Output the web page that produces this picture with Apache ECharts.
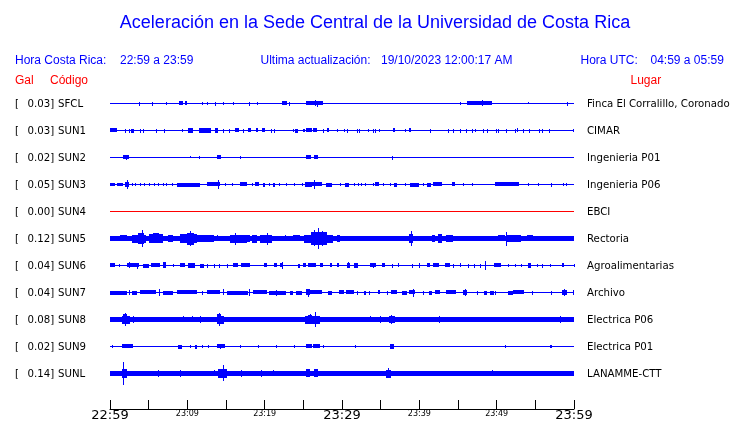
<!DOCTYPE html>
<html><head><meta charset="utf-8">
<script src="https://cdn.jsdelivr.net/npm/echarts@6/dist/echarts.min.js"></script>
<style>html,body{margin:0;padding:0;background:#fff}#c{width:740px;height:423px}</style>
</head><body><div id="c"></div>
<script>
// Time axis: minutes after 22:59 (hora Costa Rica)
const timeTicks = ['22:59','23:09','23:19','23:29','23:39','23:49','23:59'];
const codes = ['SFCL','SUN1','SUN2','SUN3','SUN4','SUN5','SUN6','SUN7','SUN8','SUN9','SUNL'];
const galPeak = ['0.03','0.03','0.02','0.05','0.00','0.12','0.04','0.04','0.08','0.02','0.14'];
const places = ['Finca El Corralillo, Coronado','CIMAR','Ingenieria P01','Ingenieria P06','EBCI','Rectoria','Agroalimentarias','Archivo','Electrica P06','Electrica P01','LANAMME-CTT'];
// background (continuous) amplitude of each trace, Gal
const baseAmp = [0,0,0,0,0,0.022,0,0,0.022,0,0.022];
// bursts: [start minute, end minute, half amplitude (Gal)]
const burstsSFCL = [[3.8,3.8,0.015],[5.4,5.4,0.015],[7.3,7.3,0.01],[8.9,9.4,0.02],[9.7,10.0,0.02],[11.9,11.9,0.012],[12.5,12.5,0.012],[13.6,13.6,0.015],[14.6,14.6,0.012],[15.9,15.9,0.01],[18.0,18.0,0.015],[19.0,19.0,0.01],[22.3,22.9,0.02],[23.1,23.1,0.015],[25.4,27.6,0.02],[26.5,26.5,0.03],[26.8,26.8,0.028],[45.3,45.3,0.01],[46.1,49.4,0.02],[48.1,48.1,0.03],[54.0,54.0,0.008],[59.1,59.1,0.015]];
const burstsSUN1 = [[0,0.9,0.02],[1.9,1.9,0.015],[2.4,2.4,0.015],[2.7,3.1,0.015],[3.9,3.9,0.015],[4.3,4.3,0.015],[6.0,6.0,0.015],[7.0,7.0,0.015],[9.3,9.3,0.01],[10.1,10.7,0.025],[11.5,13.0,0.022],[13.6,14.0,0.025],[14.6,14.6,0.015],[15.4,15.4,0.015],[16.2,16.7,0.018],[17.2,17.2,0.015],[17.8,18.2,0.018],[18.9,19.1,0.018],[19.6,20.0,0.018],[20.8,20.8,0.015],[21.2,21.2,0.015],[23.6,23.6,0.012],[23.9,24.3,0.015],[25.0,25.2,0.012],[25.4,26.1,0.018],[26.3,26.8,0.018],[27.5,27.5,0.015],[28.0,28.3,0.018],[29.3,29.3,0.012],[30.2,30.2,0.01],[30.7,30.7,0.015],[31.9,31.9,0.015],[32.2,32.2,0.015],[33.4,33.4,0.01],[34.0,34.0,0.015],[34.3,34.3,0.015],[34.8,34.8,0.01],[36.6,36.9,0.018],[38.1,38.1,0.012],[38.6,38.9,0.018],[41.4,41.4,0.015],[43.7,43.7,0.015],[44.3,44.3,0.015],[45.3,45.3,0.015],[46.0,46.0,0.015],[46.8,46.8,0.015],[47.2,47.2,0.01],[48.2,48.2,0.015],[48.8,48.8,0.015],[49.9,49.9,0.015],[50.2,50.2,0.015],[51.2,51.2,0.015],[52.4,52.4,0.015],[52.6,52.8,0.018],[53.4,53.4,0.015],[54.2,54.2,0.015],[55.5,55.5,0.015],[55.8,55.8,0.015],[56.8,56.8,0.015],[59.9,59.9,0.012]];
const burstsSUN2 = [[1.7,2.4,0.018],[2.1,2.1,0.022],[10.3,10.3,0.008],[11.5,11.5,0.012],[13.8,14.4,0.018],[16.8,16.8,0.01],[25.4,26.0,0.018],[26.4,26.9,0.018],[36.5,36.5,0.015]];
const burstsSUN3 = [[0,0.6,0.012],[0.9,1.7,0.012],[1.9,2.5,0.025],[2.2,2.2,0.05],[2.8,2.8,0.012],[3.2,3.2,0.012],[3.9,3.9,0.012],[4.4,4.4,0.012],[5.1,5.1,0.012],[5.7,5.7,0.012],[6.2,6.2,0.012],[6.9,6.9,0.012],[7.3,7.3,0.012],[8.0,8.0,0.012],[8.6,11.6,0.015],[12.5,14.2,0.02],[14.0,14.0,0.045],[14.9,14.9,0.012],[15.8,15.8,0.012],[16.8,17.7,0.018],[18.3,18.3,0.012],[18.7,19.3,0.018],[19.8,20.1,0.015],[20.6,20.6,0.012],[21.1,21.4,0.015],[21.8,21.8,0.012],[22.8,22.8,0.012],[23.8,23.8,0.01],[24.8,24.8,0.01],[25.2,27.4,0.02],[25.2,26.1,0.025],[26.4,26.4,0.05],[27.9,28.7,0.015],[29.7,29.7,0.012],[30.4,30.9,0.015],[31.5,31.5,0.012],[32.1,32.1,0.01],[32.5,32.5,0.012],[33.0,33.0,0.012],[34.0,34.0,0.01],[34.3,34.8,0.02],[35.3,35.3,0.012],[36.2,36.2,0.012],[36.7,37.1,0.015],[38.2,38.2,0.012],[38.8,40.0,0.015],[40.5,40.5,0.01],[41.0,41.5,0.015],[41.8,42.9,0.018],[44.2,44.6,0.018],[45.6,45.6,0.012],[46.8,46.8,0.01],[49.8,52.9,0.018],[54.1,54.1,0.012],[55.3,55.3,0.01],[57.0,57.0,0.015],[58.6,58.6,0.012],[59.0,59.0,0.012]];
const burstsSUN4 = [];
const burstsSUN5 = [[1.3,2.2,0.03],[2.8,4.7,0.04],[3.6,4.4,0.06],[4.1,4.1,0.095],[5.0,6.9,0.045],[5.5,6.3,0.055],[7.5,8.2,0.035],[9.1,11.2,0.045],[9.9,10.8,0.065],[10.3,10.3,0.085],[11.2,13.4,0.035],[13.8,13.8,0.03],[15.5,16.8,0.04],[16.2,16.2,0.065],[16.8,17.7,0.04],[17.5,18.1,0.035],[18.3,19.0,0.04],[19.4,20.9,0.04],[20.3,20.3,0.065],[22.6,22.6,0.03],[23.7,24.6,0.03],[25.1,28.9,0.04],[26.0,28.0,0.07],[26.4,26.4,0.09],[26.9,26.9,0.12],[27.4,27.4,0.085],[29.4,29.8,0.035],[32.8,32.8,0.025],[34.2,34.2,0.025],[36.2,36.2,0.025],[37.3,37.3,0.025],[38.4,38.4,0.025],[38.7,39.2,0.05],[38.9,38.9,0.08],[41.6,42.0,0.035],[42.4,42.9,0.045],[43.5,44.3,0.035],[46.5,46.5,0.025],[50.2,51.1,0.03],[51.2,51.2,0.075],[51.3,53.2,0.035],[53.9,54.7,0.03],[56.5,56.5,0.025]];
const burstsSUN6 = [[0,0.6,0.02],[1.1,1.1,0.012],[2.2,3.8,0.018],[2.4,2.4,0.03],[3.5,3.5,0.028],[4.3,5.0,0.015],[5.3,6.5,0.018],[6.8,7.3,0.03],[8.2,8.2,0.012],[9.0,9.7,0.018],[10.1,11.0,0.025],[11.6,12.1,0.015],[12.5,12.5,0.015],[13.4,13.4,0.015],[14.1,14.1,0.015],[15.1,15.1,0.015],[15.9,16.5,0.018],[17.0,18.1,0.018],[19.9,20.3,0.018],[21.2,21.6,0.018],[22.0,22.4,0.02],[22.2,22.2,0.035],[24.3,24.6,0.015],[25.0,25.3,0.018],[25.6,26.6,0.018],[27.2,27.5,0.018],[28.4,28.7,0.018],[29.3,29.6,0.018],[30.7,31.0,0.022],[30.8,30.8,0.03],[31.5,32.1,0.025],[33.6,34.4,0.018],[34.0,34.0,0.022],[35.2,35.5,0.018],[36.5,36.5,0.015],[37.2,37.4,0.018],[39.0,39.0,0.015],[39.9,39.9,0.022],[41.0,41.4,0.018],[41.8,42.5,0.018],[43.3,44.0,0.018],[44.4,44.4,0.015],[45.2,45.4,0.018],[46.3,46.3,0.015],[47.1,47.1,0.015],[47.8,47.8,0.015],[48.5,48.5,0.045],[49.6,50.5,0.018],[51.5,51.5,0.012],[52.4,52.4,0.012],[53.2,53.2,0.012],[54.0,54.5,0.025],[55.2,55.2,0.012],[55.9,55.9,0.015],[56.9,56.9,0.012],[58.5,58.7,0.018],[60.0,60.0,0.012]];
const burstsSUN7 = [[0,2.2,0.015],[2.4,2.4,0.025],[2.8,3.5,0.015],[3.9,6.0,0.018],[6.4,6.4,0.035],[6.9,8.2,0.015],[8.6,11.2,0.02],[11.9,11.9,0.015],[12.5,14.2,0.018],[14.6,14.6,0.03],[15.1,17.9,0.015],[18.0,18.0,0.035],[18.5,20.3,0.02],[20.5,22.8,0.015],[21.5,21.5,0.028],[23.3,23.7,0.015],[24.1,24.8,0.015],[25.4,25.9,0.03],[25.6,25.6,0.04],[25.9,27.4,0.02],[28.2,28.7,0.015],[29.6,30.2,0.018],[30.5,31.5,0.018],[31.9,31.9,0.015],[32.8,33.1,0.015],[33.5,33.5,0.015],[34.6,34.9,0.018],[35.8,35.8,0.015],[36.4,37.1,0.02],[37.7,38.4,0.015],[38.6,39.4,0.02],[39.2,39.2,0.04],[40.5,40.5,0.015],[41.2,41.6,0.015],[42.0,42.7,0.018],[43.5,44.8,0.018],[45.6,46.2,0.022],[45.9,45.9,0.035],[47.5,47.5,0.015],[48.3,48.7,0.015],[49.1,49.6,0.015],[49.8,49.8,0.015],[51.5,52.1,0.015],[52.1,53.5,0.02],[54.6,54.6,0.015],[57.0,57.0,0.015],[58.4,59.1,0.025],[58.7,58.7,0.035],[59.9,60.0,0.025]];
const burstsSUN8 = [[1.5,2.6,0.04],[1.7,2.2,0.055],[1.9,1.9,0.07],[3.0,3.0,0.035],[9.4,9.4,0.03],[10.6,10.6,0.03],[11.6,11.6,0.035],[13.8,14.7,0.04],[13.9,14.4,0.055],[14.1,14.1,0.07],[25.2,27.2,0.04],[25.6,26.1,0.05],[25.8,25.8,0.055],[26.5,26.5,0.08],[33.6,33.6,0.03],[34.9,34.9,0.035],[36.1,36.9,0.035],[36.4,36.4,0.045],[42.6,42.6,0.035],[58.2,58.2,0.035]];
const burstsSUN9 = [[0.2,0.2,0.01],[1.5,3.0,0.018],[8.8,9.3,0.015],[10.3,10.3,0.012],[11.0,11.2,0.015],[11.9,11.9,0.012],[12.7,12.7,0.012],[13.8,14.9,0.018],[14.2,14.2,0.025],[16.8,16.8,0.01],[19.2,19.2,0.012],[21.5,21.5,0.01],[23.8,23.8,0.01],[25.4,26.1,0.018],[26.3,27.1,0.018],[27.5,27.5,0.012],[31.7,31.7,0.01],[36.2,36.7,0.022],[51.1,51.1,0.012],[56.9,57.2,0.012]];
const burstsSUNL = [[1.5,2.2,0.05],[1.7,1.7,0.13],[6.2,6.2,0.035],[9.1,9.1,0.035],[13.4,13.4,0.03],[14.0,15.1,0.045],[14.6,14.6,0.09],[17.0,17.0,0.035],[19.5,19.5,0.035],[21.1,21.1,0.03],[25.4,25.8,0.042],[26.4,26.9,0.042],[31.7,31.7,0.025],[35.7,36.4,0.04],[35.9,35.9,0.055],[49.4,49.4,0.03]];
const allBursts = [burstsSFCL,burstsSUN1,burstsSUN2,burstsSUN3,burstsSUN4,burstsSUN5,burstsSUN6,burstsSUN7,burstsSUN8,burstsSUN9,burstsSUNL];

const BLUE = '#0000ff', RED = '#ff0000';
const chart = echarts.init(document.getElementById('c'), null, {renderer:'canvas'});
const grids = [], xAxes = [], yAxes = [], series = [], graphics = [];
const ROW0 = 90, ROWH = 27, L = 110, W = 464;

function renderItem(params, api) {
  const t0 = api.value(0), t1 = api.value(1), a = api.value(2);
  const p0 = api.coord([t0, 0]), p1 = api.coord([t1, 0]);
  const pxPerGal = api.size([0, 1])[1];
  const half = a * pxPerGal;
  const x = Math.round(p0[0]);
  const w = Math.max(1, Math.round(p1[0]) - x);
  const y = Math.round(p0[1] - 0.5 - half);
  const h = Math.round(2 * half) + 1;
  return {type:'rect', shape:{x:x, y:y, width:w, height:h}, style:{fill: api.visual('color')}};
}

codes.forEach((code, i) => {
  grids.push({left:L, width:W, top:ROW0 + ROWH*i, height:ROWH});
  xAxes.push({type:'value', gridIndex:i, min:0, max:60, show:false});
  yAxes.push({type:'value', gridIndex:i, min:-0.16, max:0.16, show:false});
  const data = [[0, 60, baseAmp[i]]].concat(allBursts[i]);
  series.push({type:'custom', xAxisIndex:i, yAxisIndex:i, renderItem:renderItem,
    itemStyle:{color: code === 'SUN4' ? RED : BLUE}, encode:{x:[0,1], y:2}, data:data, clip:false, silent:true});
  const cy = ROW0 + ROWH*i + 14;
  const lf = {fontFamily:'DejaVu Sans', fontSize:10.2, fill:'#000', verticalAlign:'middle'};
  graphics.push({type:'text', left:15, top:cy-6, style:Object.assign({text:'['}, lf, {verticalAlign:'top'})});
  graphics.push({type:'text', x:27.5, y:cy, style:Object.assign({text:galPeak[i] + ']', align:'left'}, lf)});
  graphics.push({type:'text', x:58, y:cy, style:Object.assign({text:code, align:'left'}, lf)});
  graphics.push({type:'text', x:587, y:cy, style:Object.assign({text:places[i], align:'left'}, lf)});
});
// fix '[' to use x/y like others
for (const g of graphics) { if (g.style.text === '[') { delete g.left; delete g.top; g.x = 15; g.y = g.style && 0; } }
let k = 0;
graphics.forEach(g => { if (g.style.text === '[') { g.y = ROW0 + ROWH*k + 14; g.style.verticalAlign = 'middle'; k++; } });

// time axis grid
grids.push({left:L, width:W, top:300, height:109});
xAxes.push({type:'value', gridIndex:11, min:0, max:60, interval:5,
  axisLine:{show:true, lineStyle:{color:'#000', width:1}},
  axisTick:{show:true, inside:true, length:9, lineStyle:{color:'#000', width:1}},
  splitLine:{show:false},
  axisLabel:{show:true, margin:0, interval:0, showMinLabel:true, showMaxLabel:true, verticalAlign:'top',
    formatter: v => { if (v % 10 !== 0) return ''; const s = timeTicks[v/10]; return (v % 30 === 0) ? '{big|' + s + '}' : '{small|' + s + '}'; },
    rich:{ big:{fontFamily:'DejaVu Sans', fontSize:13, color:'#000', lineHeight:14},
           small:{fontFamily:'DejaVu Sans', fontSize:8, color:'#000', lineHeight:10} } }
});
yAxes.push({type:'value', gridIndex:11, show:false});

const hf = {fontFamily:'Liberation Sans, Arial, sans-serif', fontSize:12, fill:BLUE, verticalAlign:'middle'};
const rf = Object.assign({}, hf, {fill:RED});
graphics.push({type:'text', x:375, y:23.5, style:{text:'Aceleración en la Sede Central de la Universidad de Costa Rica', fontFamily:'Liberation Sans, Arial, sans-serif', fontSize:18, fill:BLUE, align:'center', verticalAlign:'middle'}});
graphics.push({type:'text', x:15, y:61, style:Object.assign({text:'Hora Costa Rica:', align:'left'}, hf)});
graphics.push({type:'text', x:120, y:61, style:Object.assign({text:'22:59 a 23:59', align:'left'}, hf)});
graphics.push({type:'text', x:260.5, y:61, style:Object.assign({text:'Ultima actualización:', align:'left'}, hf)});
graphics.push({type:'text', x:381, y:61, style:Object.assign({text:'19/10/2023 12:00:17 AM', align:'left'}, hf)});
graphics.push({type:'text', x:580.5, y:61, style:Object.assign({text:'Hora UTC:', align:'left'}, hf)});
graphics.push({type:'text', x:650.5, y:61, style:Object.assign({text:'04:59 a 05:59', align:'left'}, hf)});
graphics.push({type:'text', x:15, y:80.5, style:Object.assign({text:'Gal', align:'left'}, rf)});
graphics.push({type:'text', x:50, y:80.5, style:Object.assign({text:'Código', align:'left'}, rf)});
graphics.push({type:'text', x:630.5, y:80.5, style:Object.assign({text:'Lugar', align:'left'}, rf)});

chart.setOption({animation:false, grid:grids, xAxis:xAxes, yAxis:yAxes, series:series, graphic:{elements:graphics}});
</script></body></html>
